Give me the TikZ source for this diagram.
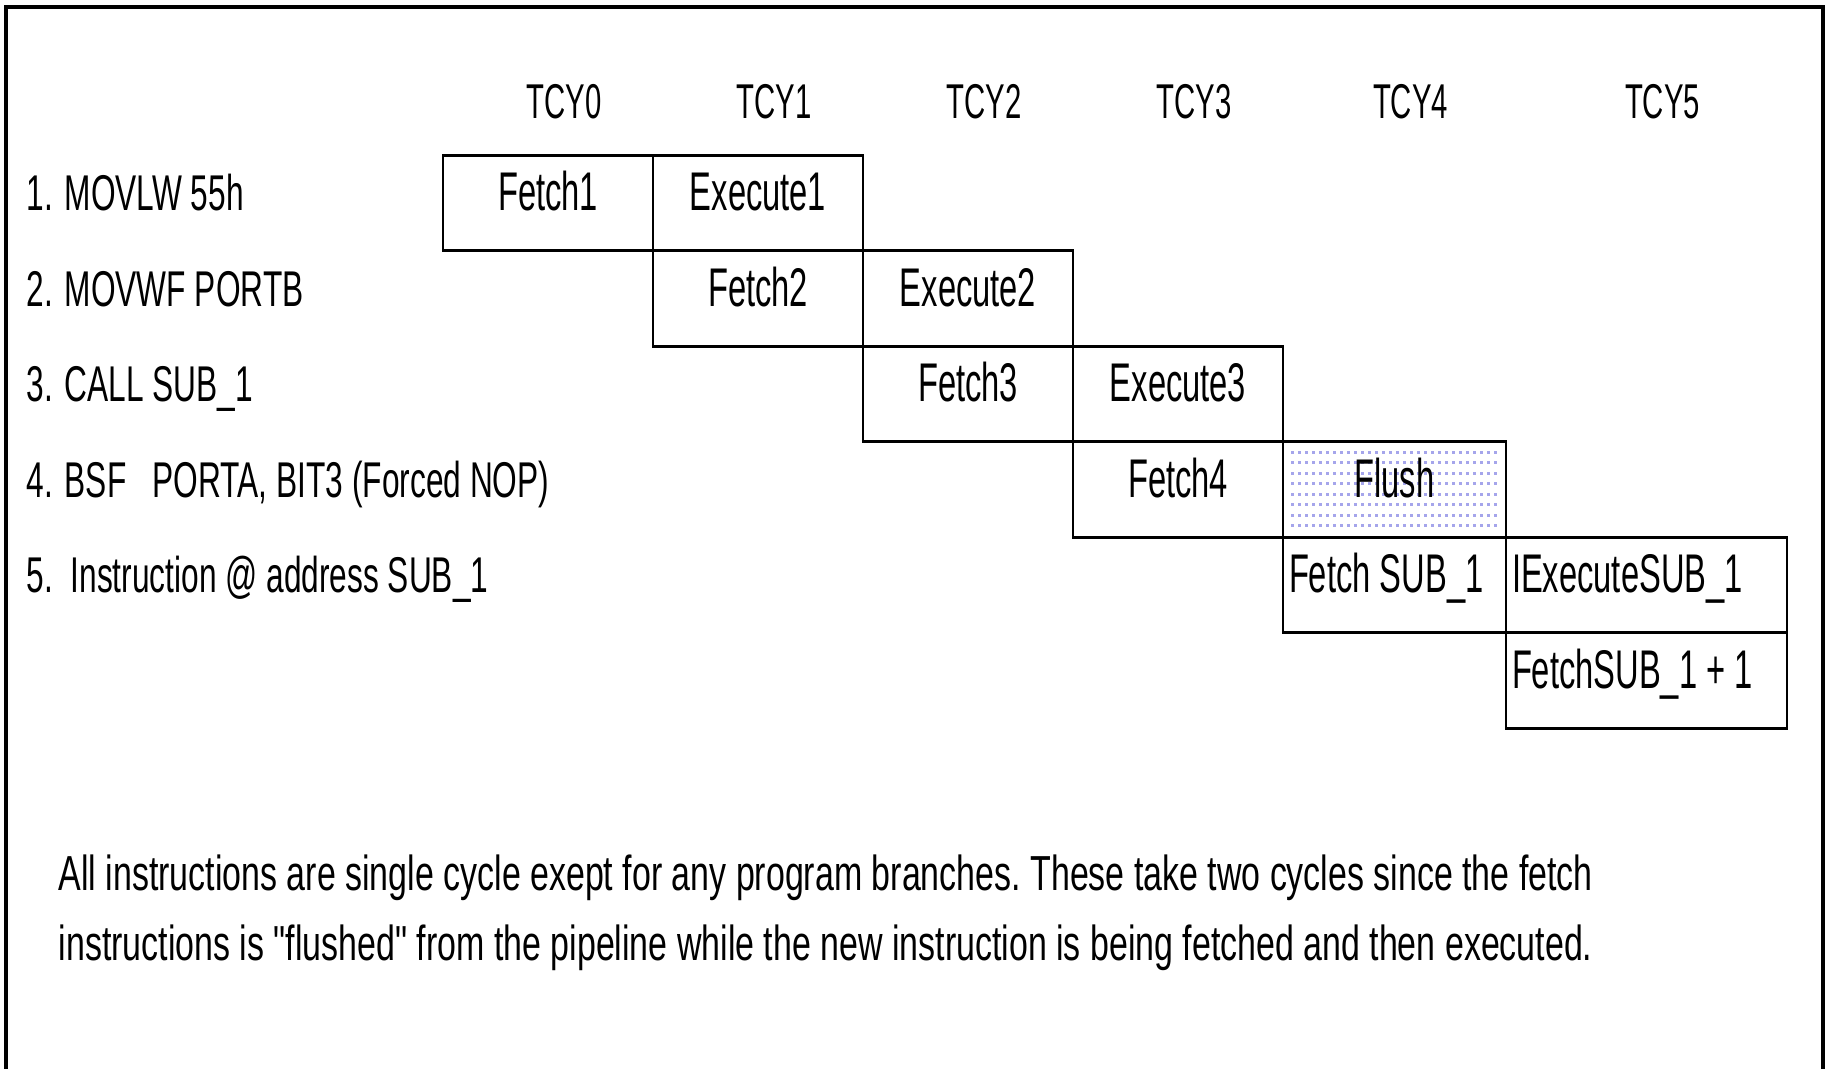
\documentclass[tikz,border=0pt]{standalone}
\usepackage{fontspec}
\setmainfont{Liberation Sans}[FakeStretch=0.6]
\newfontfamily\labelfont{Liberation Sans}[FakeStretch=0.63]
\newfontfamily\notefont{Liberation Sans}[FakeStretch=0.69]
\usepackage{xcolor}
\usetikzlibrary{
    positioning,
    backgrounds
}
\definecolor{flushdot}{RGB}{165,165,235}
\tikzset{
    cell/.style={
        rectangle,
        draw=black,
        line width=0.8pt,
        outer sep=0pt,
        inner sep=0.6mm,
        minimum width=#1,
        minimum height=9.55mm,
        text height=3.0mm,
        text depth=1.4mm,
        font=\fontsize{15.5}{18}\selectfont
    },
    cell/.default=21mm,
    cyclehead/.style={
        inner sep=0pt,
        font=\fontsize{13.9}{16}\selectfont
    },
    instr/.style={
        anchor=west,
        inner sep=0pt,
        text height=3.0mm,
        text depth=1.4mm,
        font=\labelfont\fontsize{14.3}{17}\selectfont
    },
    note/.style={
        anchor=base west,
        inner sep=0pt,
        font=\notefont\fontsize{14}{17}\selectfont\frenchspacing
    },
    framebox/.style={
        line width=1.3pt
    },
    flushdots/.style={
        draw=flushdot,
        line width=0.3mm,
        dash pattern=on 0.25mm off 0.45mm
    }
}

\begin{document}
\begin{tikzpicture}
\useasboundingbox (0,0) rectangle (183mm,-106.9mm);
\draw[framebox] (0.6mm,-108mm) -- (0.6mm,-0.7mm) -- (182.3mm,-0.7mm) -- (182.3mm,-108mm);

% pipeline cells, one row per instruction
\node[cell] (fetch1) at (54.8mm,-20.3mm) {Fetch1};
\node[cell, right=0pt of fetch1] (exec1) {Execute1};
\node[cell, below=0pt of exec1] (fetch2) {Fetch2};
\node[cell, right=0pt of fetch2] (exec2) {Execute2};
\node[cell, below=0pt of exec2] (fetch3) {Fetch3};
\node[cell, right=0pt of fetch3] (exec3) {Execute3};
\node[cell, below=0pt of exec3] (fetch4) {Fetch4};
\node[cell=22.3mm, right=0pt of fetch4] (flush) {Flush};
\node[cell=22.3mm, text width=21.1mm, align=flush left, below=0pt of flush] (fetchsub) {Fetch SUB\_1};
\node[cell=28.1mm, text width=26.9mm, align=flush left, right=0pt of fetchsub] (execsub) {IExecuteSUB\_1};
\node[cell=28.1mm, text width=26.9mm, align=flush left, below=0pt of execsub] (fetchnext) {FetchSUB\_1 + 1};

\begin{pgfonlayer}{background}
\foreach \k in {1,...,8}
    \draw[flushdots] ([xshift=0.8mm,yshift=-\k*1.05mm]flush.north west) -- ([xshift=-0.8mm,yshift=-\k*1.05mm]flush.north east);
\end{pgfonlayer}

% instruction cycles
\coordinate (hdr) at ([yshift=5.4mm]fetch1.north);
\node[cyclehead, xshift=1.6mm] (tcy0) at (fetch1 |- hdr) {TCY0};
\node[cyclehead, xshift=1.6mm] (tcy1) at (exec1 |- hdr) {TCY1};
\node[cyclehead, xshift=1.6mm] (tcy2) at (exec2 |- hdr) {TCY2};
\node[cyclehead, xshift=1.6mm] (tcy3) at (exec3 |- hdr) {TCY3};
\node[cyclehead, xshift=1.6mm] (tcy4) at (flush |- hdr) {TCY4};
\node[cyclehead, xshift=1.6mm] (tcy5) at (execsub |- hdr) {TCY5};

% program listing
\coordinate (lblx) at (2.6mm,0);
\node[instr] (ins1) at (lblx |- fetch1) {1. MOVLW 55h};
\node[instr] (ins2) at (lblx |- fetch2) {2. MOVWF PORTB};
\node[instr] (ins3) at (lblx |- fetch3) {3. CALL SUB\_1};
\node[instr] (ins4) at (lblx |- fetch4) {4. BSF\ \ \ PORTA, BIT3 (Forced NOP)};
\node[instr] (ins5) at (lblx |- fetchsub) {5.\ \ Instruction @ address SUB\_1};

\node[note] (note1) at (5.8mm,-89.1mm) {All instructions are single cycle exept for any program branches. These take two cycles since the fetch};
\node[note] (note2) at (5.8mm,-96.1mm) {instructions is \symbol{34}flushed\symbol{34} from the pipeline while the new instruction is being fetched and then executed.};
\end{tikzpicture}
\end{document}
